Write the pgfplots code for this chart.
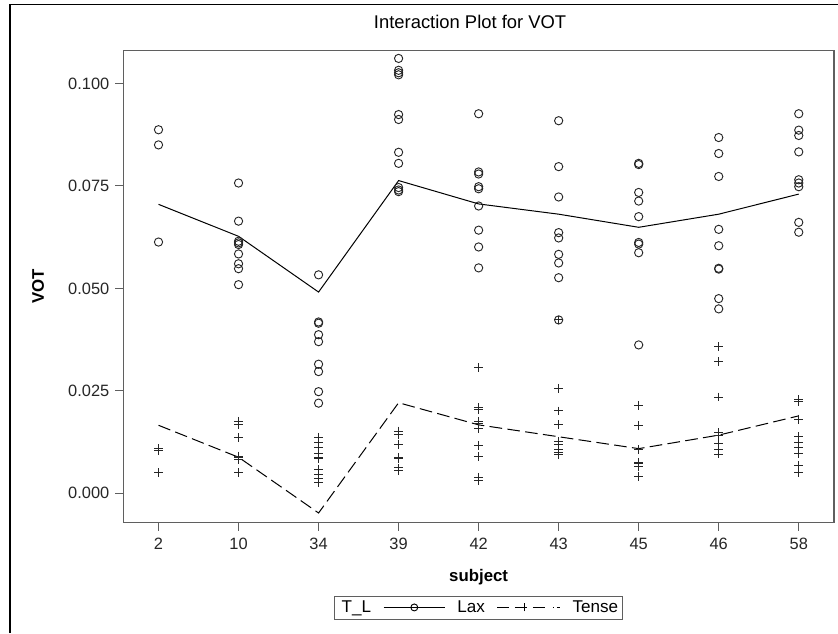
\documentclass[border=0pt]{standalone}
\usepackage{fontspec}
\setmainfont{Liberation Sans}
\usepackage{pgfplots}
\pgfplotsset{compat=1.18}

% one reference pixel = 0.75pt
\pgfplotstableread{
x y
0 0.0887
0 0.0850
0 0.0613
1 0.0757
1 0.0664
1 0.0615
1 0.0611
1 0.0607
1 0.0584
1 0.0560
1 0.0548
1 0.0509
2 0.0533
2 0.0418
2 0.0415
2 0.0387
2 0.0370
2 0.0315
2 0.0297
2 0.0248
2 0.0220
3 0.1061
3 0.1032
3 0.1026
3 0.1021
3 0.0924
3 0.0912
3 0.0832
3 0.0805
3 0.0746
3 0.0740
3 0.0736
4 0.0926
4 0.0784
4 0.0779
4 0.0748
4 0.0743
4 0.0701
4 0.0642
4 0.0601
4 0.0550
5 0.0909
5 0.0797
5 0.0723
5 0.0636
5 0.0623
5 0.0583
5 0.0562
5 0.0526
5 0.0423
6 0.0805
6 0.0802
6 0.0734
6 0.0713
6 0.0675
6 0.0612
6 0.0608
6 0.0587
6 0.0362
7 0.0868
7 0.0829
7 0.0773
7 0.0644
7 0.0604
7 0.0549
7 0.0547
7 0.0475
7 0.0450
8 0.0926
8 0.0886
8 0.0873
8 0.0833
8 0.0765
8 0.0757
8 0.0748
8 0.0661
8 0.0637
}\laxpts

\pgfplotstableread{
x y
0 0.0109
0 0.0105
0 0.0051
1 0.0176
1 0.0168
1 0.0136
1 0.0091
1 0.0087
1 0.0083
1 0.0050
2 0.0137
2 0.0123
2 0.0111
2 0.0097
2 0.0088
2 0.0084
2 0.0058
2 0.0047
2 0.0036
2 0.0027
3 0.0152
3 0.0144
3 0.0119
3 0.0088
3 0.0084
3 0.0062
3 0.0056
4 0.0306
4 0.0209
4 0.0205
4 0.0176
4 0.0170
4 0.0158
4 0.0117
4 0.0089
4 0.0039
4 0.0032
5 0.0423
5 0.0256
5 0.0201
5 0.0167
5 0.0126
5 0.0119
5 0.0107
5 0.0099
5 0.0095
6 0.0215
6 0.0166
6 0.0107
6 0.0076
6 0.0072
6 0.0066
6 0.0042
7 0.0358
7 0.0321
7 0.0235
7 0.0148
7 0.0142
7 0.0122
7 0.0107
7 0.0096
8 0.0228
8 0.0224
8 0.0181
8 0.0138
8 0.0125
8 0.0111
8 0.0097
8 0.0068
8 0.0050
}\tensepts

\pgfplotstableread{
x lax tense
0 0.0705 0.0166
1 0.0627 0.0088
2 0.0491 -0.0048
3 0.0763 0.0221
4 0.0706 0.0167
5 0.0681 0.0138
6 0.0649 0.0109
7 0.0681 0.0142
8 0.0730 0.0189
}\means

\definecolor{framegray}{HTML}{5F5F5F}
\definecolor{mk}{HTML}{262626}

\begin{document}
\begin{tikzpicture}
% outer border of the output page
\draw[black, line width=0.9pt] (7.5pt,0pt) -- (7.5pt,471.2pt) -- (628.5pt,471.2pt);
\begin{axis}[
  at={(92.475pt,82.875pt)}, anchor=south west,
  scale only axis,
  width=533pt, height=353.9pt,
  xmin=-0.44, xmax=8.44,
  ymin=-0.00712, ymax=0.1080,
  xtick={0,...,8},
  xticklabels={2,10,34,39,42,43,45,46,58},
  ytick={0,0.025,0.05,0.075,0.1},
  yticklabels={0.000,0.025,0.050,0.075,0.100},
  tick align=outside,
  major tick length=6pt,
  xtick pos=bottom, ytick pos=left,
  axis line style={framegray, line width=1.1pt},
  every tick/.style={framegray, line width=0.8pt},
  tick label style={font=\fontsize{12.3}{14}\selectfont, text=black!85},
  xticklabel style={yshift=-2pt},
  yticklabel style={xshift=-1pt},
  title={Interaction Plot for VOT},
  title style={at={(0.488,1.044)}, anchor=center, font=\fontsize{13.8}{16}\selectfont},
  xlabel={subject},
  xlabel style={at={(0.5,-0.1155)}, anchor=center, font=\bfseries\fontsize{12.6}{14}\selectfont},
  ylabel={VOT},
  ylabel style={at={(-0.12,0.5)}, anchor=center, font=\bfseries\fontsize{12.6}{14}\selectfont},
  legend columns=3,
  legend style={at={(0.5,-0.180)}, anchor=center, draw=framegray, line width=0.6pt,
    font=\fontsize{12.8}{15}\selectfont, inner sep=1.5pt,
    /tikz/every odd column/.append style={column sep=2pt},
    /tikz/every even column/.append style={column sep=7pt}},
  clip=false,
]
\addlegendimage{empty legend}
\addlegendentry{T\_L\hspace{13pt}}
\addplot[only marks, mark=o, mark size=3.1pt, mk, line width=0.7pt, forget plot] table[x=x,y=y] {\laxpts};
\addplot[only marks, mark=+, mark size=3.3pt, mk, line width=0.7pt, forget plot] table[x=x,y=y] {\tensepts};
\addplot[black, line width=0.75pt, mark=none,
  legend image code/.code={
    \draw[black, line width=0.75pt] (0pt,0pt) -- (46pt,0pt);
    \draw[black, line width=0.7pt] (23pt,0pt) circle (2.6pt);}]
  table[x=x,y=lax] {\means};
\addlegendentry{\hspace{5pt}Lax\hspace{4pt}}
\addplot[black, line width=0.75pt, mark=none, dash pattern=on 9.5pt off 4pt,
  legend image code/.code={
    \draw[black, line width=0.75pt, dash pattern=on 9pt off 4pt on 9.5pt off 4pt on 9pt off 6pt on 1pt off 2pt] (0pt,0pt) -- (47pt,0pt);
    \draw[black, line width=0.7pt] (20pt,-3pt) -- (20pt,3pt);}]
  table[x=x,y=tense] {\means};
\addlegendentry{\hspace{5pt}Tense\hspace{3pt}}
\end{axis}
\pgfresetboundingbox
\useasboundingbox (0pt,0pt) rectangle (628.5pt,474.75pt);
\end{tikzpicture}
\end{document}
